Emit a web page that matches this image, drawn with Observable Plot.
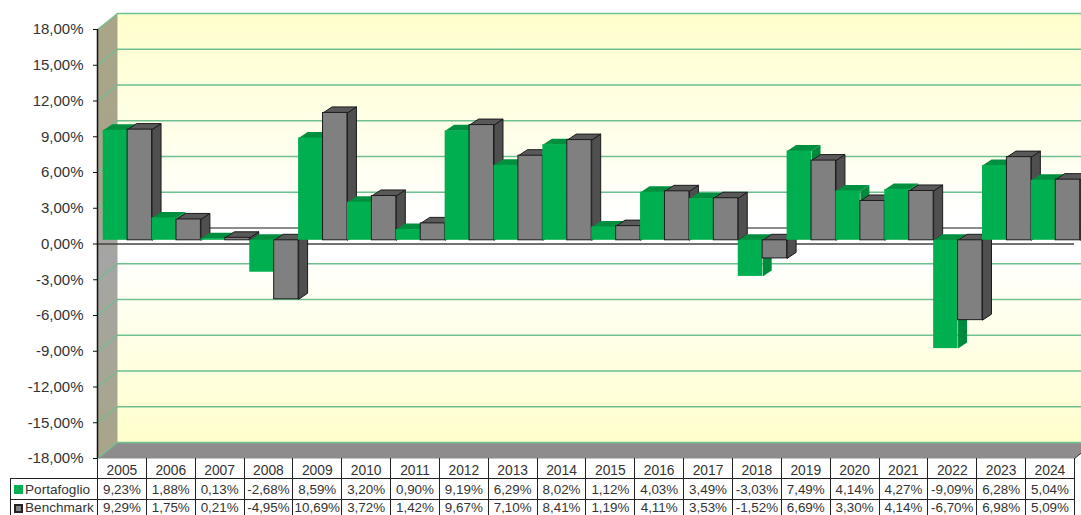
<!DOCTYPE html>
<html>
<head>
<meta charset="utf-8">
<script src="https://cdn.jsdelivr.net/npm/d3@7"></script>
<script src="https://cdn.jsdelivr.net/npm/@observablehq/plot@0.6"></script>
<style>
  html, body { margin: 0; padding: 0; background: #fff; }
  #page { position: relative; width: 1081px; height: 515px; overflow: hidden; font-family: "Liberation Sans", Arial, sans-serif; }
  #chart svg { display: block; }
  table { position: absolute; left: 10px; top: 458px; width: 1063.5px; border-collapse: collapse; table-layout: fixed; color: #333; font-size: 13.4px; }
  td, th { border: 1px solid #222; padding: 0; height: 20px; text-align: center; font-weight: normal; white-space: nowrap; overflow: hidden; }
  th { vertical-align: bottom; font-size: 13.8px; line-height: 12px; border-top: none; padding-bottom: 1px; height: 19px; }
  th.blank { border: none; border-right: 1px solid #222; border-bottom: 1px solid #222; }
  td.name { text-align: left; padding-left: 3px; font-size: 13.6px; }
  tr.last td { vertical-align: top; line-height: 14px; padding-top: 1px; height: 19px; }
  .key { display: inline-block; width: 9px; height: 9px; margin-right: 2px; box-sizing: border-box; vertical-align: -0.5px; }
</style>
</head>
<body>
<div id="page">
  <div id="chart"></div>
  <table id="tbl"></table>
</div>
<script>
const years = [2005,2006,2007,2008,2009,2010,2011,2012,2013,2014,2015,2016,2017,2018,2019,2020,2021,2022,2023,2024];
const portafoglio = [9.23,1.88,0.13,-2.68,8.59,3.20,0.90,9.19,6.29,8.02,1.12,4.03,3.49,-3.03,7.49,4.14,4.27,-9.09,6.28,5.04];
const benchmark = [9.29,1.75,0.21,-4.95,10.69,3.72,1.42,9.67,7.10,8.41,1.19,4.11,3.53,-1.52,6.69,3.30,4.14,-6.70,6.98,5.09];
const yTicks = [-18,-15,-12,-9,-6,-3,0,3,6,9,12,15,18];

const fmt = v => v.toFixed(2).replace(".", ",") + "%";

// pixels per data unit on the two scales
const W = 1081, H = 515, mL = 97, mR = 7, mT = 29, mB = 57;
const ux = (W - mL - mR) / years.length;
const uy = (H - mT - mB) / 36;

// pseudo-3D offsets, in pixels
const wall = {dx: 20, dy: -16};
const barPlane = {dx: 5.7, dy: -3.7};
const depth = {x: 9 / ux, y: 6 / uy};
const wx = wall.dx / ux, wy = -wall.dy / uy;

const poly = (pts, o) => Plot.line(pts, {x: d => d[0], y: d => d[1], ...o});

const C = {
  grid: "#6fbf90",
  green: {front: "#00b050", top: "#008f3f", side: "#008a3c", stroke: "none"},
  gray: {front: "#808080", top: "#595959", side: "#4f4f4f", stroke: "#1c1c1c"}
};

function bar(i, v, c) {
  const x1 = i, x2 = i + 0.5, hi = Math.max(0, v), lo = Math.min(0, v);
  const base = {...barPlane, fill: c.front, stroke: c.stroke, strokeWidth: 1};
  return [
    poly([[x2, hi], [x2 + depth.x, hi + depth.y], [x2 + depth.x, lo + depth.y], [x2, lo], [x2, hi]],
      {...base, fill: c.side}),
    poly([[x1, hi], [x1 + depth.x, hi + depth.y], [x2 + depth.x, hi + depth.y], [x2, hi], [x1, hi]],
      {...base, fill: c.top}),
    Plot.rect([0], {x1: x1, x2: x2, y1: lo, y2: hi, ...base})
  ];
}

const defs = () => {
  const d = d3.create("svg:defs");
  const grad = (id, stops) => {
    const g = d.append("linearGradient").attr("id", id).attr("x1", 0).attr("x2", 0).attr("y1", 0).attr("y2", 1);
    stops.forEach(([o, c]) => g.append("stop").attr("offset", o).attr("stop-color", c));
  };
  grad("backWall", [[0, "#ffffcc"], [0.48, "#ffffff"], [0.56, "#ffffff"], [1, "#ffffcc"]]);
  grad("sideWall", [[0, "#a9a589"], [0.42, "#a8a48c"], [0.55, "#a5a5a5"], [1, "#a9a589"]]);
  return d.node();
};

const bars = years.flatMap((y, i) => [
  ...bar(i, portafoglio[i], C.green),
  ...bar(i + 0.5, benchmark[i], C.gray)
]);

const plot = Plot.plot({
  width: W, height: H,
  marginLeft: mL, marginRight: mR, marginTop: mT, marginBottom: mB,
  style: {background: "transparent", overflow: "hidden", fontFamily: "'Liberation Sans', Arial, sans-serif"},
  x: {domain: [0, years.length], axis: null},
  y: {domain: [-18, 18], axis: null},
  marks: [
    defs,
    // back wall
    Plot.rect([0], {x1: 0, x2: 21, y1: -18, y2: 18, ...wall, fill: "url(#backWall)"}),
    // side wall
    poly([[0, -18], [wx, -18 + wy], [wx, 18 + wy], [0, 18]], {fill: "url(#sideWall)", stroke: "none"}),
    // floor
    poly([[0, -18], [20, -18], [20 + wx, -18 + wy], [wx, -18 + wy]], {fill: "#8e8c8c", stroke: "none"}),
    // grid on back wall and side wall
    Plot.ruleY(yTicks.filter(t => t !== 0), {x1: 0, x2: 21, ...wall, stroke: C.grid, strokeWidth: 1.5, strokeOpacity: 1}),
    Plot.ruleY([0], {x1: 0, x2: 21, ...wall, stroke: "#666", strokeWidth: 1.5}),
    Plot.link(yTicks.filter(t => t !== 0), {x1: 0, x2: wx, y1: d => d, y2: d => d + wy, stroke: C.grid, strokeWidth: 1.5, strokeOpacity: 0.9}),
    Plot.link([20], {x1: 20, x2: 20 + wx, y1: -18, y2: -18 + wy, stroke: "#333"}),
    // zero line
    Plot.ruleY([0], {x1: 0, x2: 20, stroke: "#444", strokeWidth: 1.5}),
    // bars
    ...bars,
    // front axis
    Plot.ruleX([0], {y1: -18, y2: 18, stroke: "#111", strokeWidth: 1.5}),
    Plot.axisY(yTicks, {
      anchor: "left", tickSize: 4, tickPadding: 10, fontSize: 15, fill: "#333", stroke: "#111",
      tickFormat: fmt, label: null, textStroke: "none"
    })
  ]
});
document.getElementById("chart").append(plot);

// data table beneath the plot
const tbl = d3.select("#tbl");
const cg = tbl.append("colgroup");
cg.append("col").style("width", "87px");
years.forEach(() => cg.append("col").style("width", ux + "px"));
const hr = tbl.append("tr");
hr.append("th").attr("class", "blank");
years.forEach(y => hr.append("th").text(y));
[["Portafoglio", portafoglio, "background:#00b050", ""],
 ["Benchmark", benchmark, "background:#808080;border:2px solid #222", "last"]].forEach(([name, vals, keyStyle, cls]) => {
  const tr = tbl.append("tr").attr("class", cls);
  const td = tr.append("td").attr("class", "name");
  td.append("span").attr("class", "key").attr("style", keyStyle);
  td.append("span").text(name);
  vals.forEach(v => tr.append("td").text(fmt(v)));
});
</script>
</body>
</html>
